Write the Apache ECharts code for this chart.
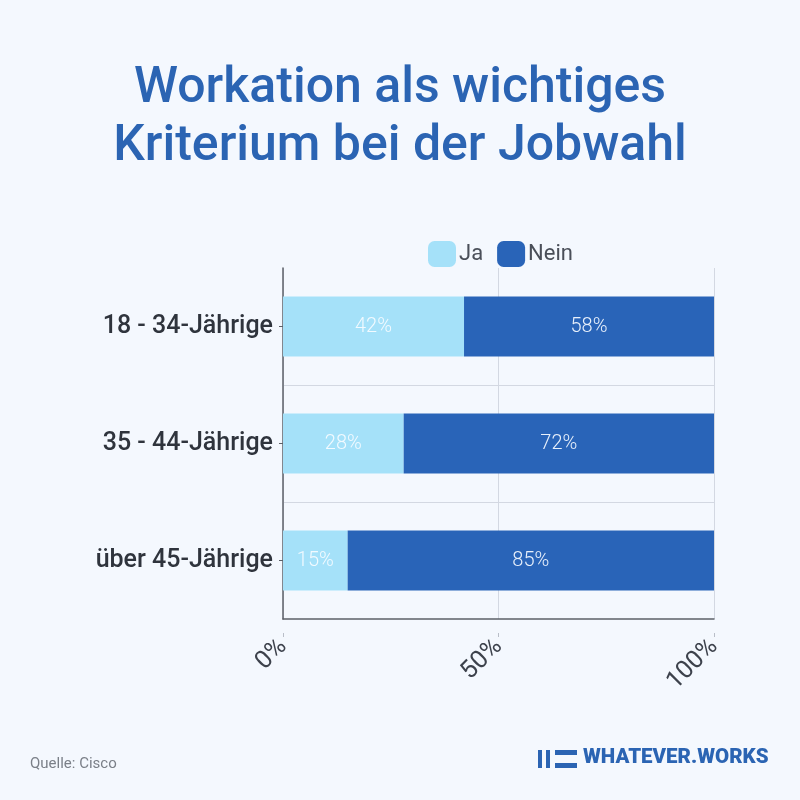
<!DOCTYPE html>
<html><head><meta charset="utf-8">
<script src="https://cdn.jsdelivr.net/npm/echarts@6/dist/echarts.min.js"></script>
<style>html,body{margin:0;padding:0;background:#f4f8fe}#c{width:800px;height:800px}</style>
</head><body><div id="c"></div>
<script>
const categories = ["18 - 34-Jährige", "35 - 44-Jährige", "über 45-Jährige"];
const jaValues = [42, 28, 15];
const neinValues = [58, 72, 85];
const xTicks = [0, 50, 100];
const seriesNames = ["Ja", "Nein"];

const chart = echarts.init(document.getElementById('c'));
const FONT = 'Roboto';
chart.setOption({
  backgroundColor: '#f4f8fe',
  animation: false,
  title: {
    text: 'Workation als wichtiges\nKriterium bei der Jobwahl',
    left: 'center', top: 55,
    textStyle: { fontFamily: FONT, fontSize: 50, fontWeight: 500, color: '#2b64b3', lineHeight: 58 }
  },
  legend: {
    data: seriesNames, top: 236, left: 423,
    itemWidth: 28, itemHeight: 26, itemGap: 14,
    icon: 'roundRect',
    textStyle: { fontFamily: FONT, fontSize: 22, color: '#4a4f59', padding: [0, 0, 0, -2] }
  },
  grid: { left: 283, right: 86, top: 268, bottom: 181, containLabel: false },
  xAxis: [{
    type: 'value', min: 0, max: 100, interval: 50, position: 'bottom',
    axisLine: { show: true, lineStyle: { color: '#5c6068', width: 1.5 } },
    axisTick: { show: false }, axisLabel: { show: false },
    splitLine: { show: true, lineStyle: { color: '#d3d8e2', width: 1 } }
  }, {
    type: 'value', min: 0, max: 100, interval: 50, position: 'bottom', offset: 14,
    axisLine: { show: false },
    axisTick: { show: true, length: 4, lineStyle: { color: '#b9bec8' } },
    splitLine: { show: false },
    axisLabel: {
      rotate: 45, margin: 10, fontFamily: FONT, fontSize: 25, color: '#3d424c',
      formatter: v => xTicks.includes(v) ? v + '%' : ''
    }
  }],
  yAxis: {
    type: 'category', data: categories, inverse: true,
    axisLine: { show: true, lineStyle: { color: '#5c6068', width: 1.5 } },
    axisTick: { show: true, alignWithLabel: true, length: 4, lineStyle: { color: '#5c6068' } },
    axisLabel: { margin: 10, fontFamily: FONT, fontSize: 25, fontWeight: 500, color: '#2f343d' },
    splitLine: { show: true, showMinLine: false, showMaxLine: false, lineStyle: { color: '#d3d8e2', width: 1 } }
  },
  series: [{
    name: 'Ja', type: 'bar', stack: 'a', data: jaValues, barWidth: 60,
    itemStyle: { color: '#a5e1f9' },
    label: { show: true, position: 'inside', formatter: '{c}%', fontFamily: FONT, fontSize: 20, fontWeight: 300, color: '#f2faff' }
  }, {
    name: 'Nein', type: 'bar', stack: 'a', data: neinValues, barWidth: 60,
    itemStyle: { color: '#2964b8' },
    label: { show: true, position: 'inside', formatter: '{c}%', fontFamily: FONT, fontSize: 20, fontWeight: 300, color: '#e8f0fb' }
  }],
  graphic: [
    { type: 'text', left: 30, top: 757, style: { text: 'Quelle: Cisco', font: '15px Roboto', fill: '#7a7f88' } },
    { type: 'rect', shape: { x: 538, y: 750, width: 4, height: 18 }, style: { fill: '#2b64b3' } },
    { type: 'rect', shape: { x: 546, y: 750, width: 4, height: 18 }, style: { fill: '#2b64b3' } },
    { type: 'rect', shape: { x: 555, y: 750, width: 22, height: 5 }, style: { fill: '#2b64b3' } },
    { type: 'rect', shape: { x: 555, y: 763, width: 22, height: 5 }, style: { fill: '#2b64b3' } },
    { type: 'text', left: 583, top: 747, style: { text: 'WHATEVER.WORKS', font: '900 20.5px "Roboto"', fill: '#2b64b3' } }
  ]
});
</script></body></html>
